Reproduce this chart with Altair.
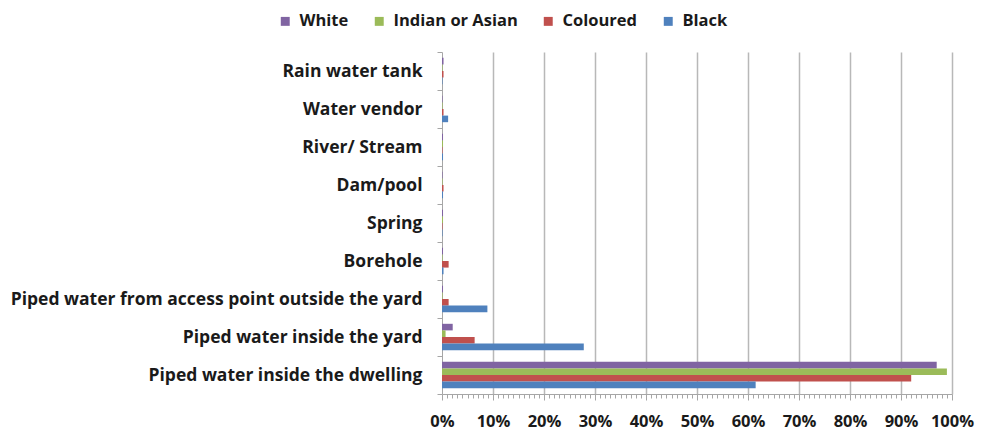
import altair as alt
import pandas as pd

categories = [
    "Rain water tank",
    "Water vendor",
    "River/ Stream",
    "Dam/pool",
    "Spring",
    "Borehole",
    "Piped water from access point outside the yard",
    "Piped water inside the yard",
    "Piped water inside the dwelling",
]
series = ["White", "Indian or Asian", "Coloured", "Black"]
white = [0.3, 0.1, 0.2, 0.1, 0.2, 0.2, 0.2, 2.1, 97.0]
indian = [0.1, 0.1, 0.2, 0.1, 0.2, 0.1, 0.1, 0.7, 99.0]
coloured = [0.3, 0.3, 0.1, 0.3, 0.1, 1.3, 1.3, 6.4, 92.0]
black = [0.1, 1.2, 0.2, 0.2, 0.1, 0.3, 8.9, 27.8, 61.5]
colors = ["#8064A2", "#9BBB59", "#C0504D", "#4F81BD"]
tick_values = list(range(0, 101))

rows = []
for name, vals in zip(series, [white, indian, coloured, black]):
    for c, v in zip(categories, vals):
        rows.append({"source": c, "group": name, "pct": v})
df = pd.DataFrame(rows)

FONT = "Open Sans"
TXT = "#1a1a1a"

chart = (
    alt.Chart(df)
    .mark_bar()
    .encode(
        y=alt.Y(
            "source:N",
            sort=categories,
            scale=alt.Scale(paddingInner=0, paddingOuter=0),
            axis=alt.Axis(
                title=None,
                tickBand="extent",
                domainColor="#a6a6a6",
                tickColor="#a6a6a6",
                tickSize=5,
                labelFont=FONT,
                labelFontSize=17.5,
                labelFontWeight="bold",
                labelColor=TXT,
                labelPadding=15,
                labelLimit=500,
                grid=False,
            ),
        ),
        yOffset=alt.YOffset(
            "group:N",
            sort=series,
            scale=alt.Scale(paddingInner=0, paddingOuter=0.88),
        ),
        x=alt.X(
            "pct:Q",
            scale=alt.Scale(domain=[0, 100], nice=False),
            axis=alt.Axis(
                title=None,
                values=tick_values,
                labelExpr="datum.value % 10 === 0 ? datum.value + '%' : ''",
                labelOverlap=False,
                labelFlush=False,
                labelFont=FONT,
                labelFontSize=16.5,
                labelFontWeight="bold",
                labelColor=TXT,
                labelPadding=13,
                domainColor="#a6a6a6",
                tickColor="#a6a6a6",
                tickSize={"condition": {"test": "datum.value % 10 === 0", "value": 6}, "value": 4},
                grid=True,
                gridColor="#b8b8b8",
                gridWidth=1.5,
                gridOpacity={"condition": {"test": "datum.value % 10 === 0 && datum.value > 0", "value": 1}, "value": 0},
            ),
        ),
        color=alt.Color(
            "group:N",
            sort=series,
            scale=alt.Scale(domain=series, range=colors),
            legend=alt.Legend(
                title=None,
                orient="none",
                direction="horizontal",
                legendX=-165,
                legendY=-39,
                symbolType="square",
                symbolSize=80,
                symbolStrokeWidth=0,
                labelFont=FONT,
                labelFontSize=16.5,
                labelFontWeight="bold",
                labelColor=TXT,
                columnPadding=22,
                labelOffset=6,
            ),
        ),
    )
    .properties(
        width=510,
        height=342,
        autosize=alt.AutoSizeParams(type="none"),
        padding={"left": 434, "top": 44, "right": 26, "bottom": 40},
    )
    .configure_view(strokeWidth=0)
)

chart.save("out.html", embed_options={"renderer": "svg", "actions": False})
